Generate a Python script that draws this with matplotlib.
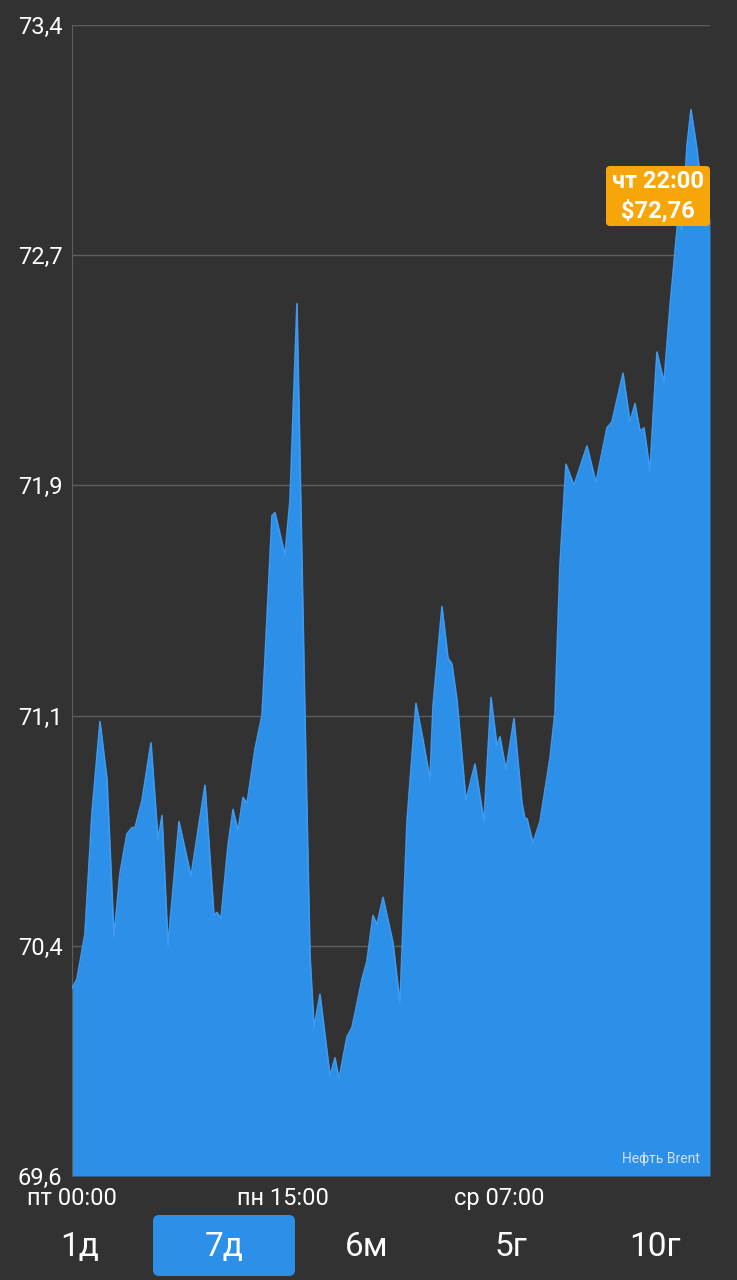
import matplotlib
matplotlib.use("Agg")
import matplotlib.pyplot as plt
import numpy as np
from matplotlib.patches import FancyBboxPatch
from matplotlib.transforms import IdentityTransform

# hours of trading since Friday 00:00, and Brent price in $
hours = [0.0, 0.92, 2.40, 3.70, 5.18, 6.47, 7.77, 8.88, 10.17, 11.10,
         11.65, 12.95, 14.61, 15.91, 16.65, 17.76, 19.79, 22.01, 24.60, 26.26,
         26.82, 27.56, 28.85, 29.78, 30.70, 31.63, 32.37, 33.85, 35.14, 35.70,
         36.99, 37.54, 39.39, 40.32, 41.61, 43.09, 44.02, 44.76, 45.87, 47.72,
         48.64, 49.38, 50.86, 51.79, 53.64, 54.56, 55.67, 56.41, 57.52, 59.37,
         60.66, 61.96, 63.62, 64.92, 66.21, 66.77, 68.43, 69.54, 70.28, 71.21,
         72.87, 74.53, 76.20, 77.49, 78.60, 79.16, 80.27, 81.75, 83.23, 83.78,
         84.15, 85.26, 86.56, 88.41, 89.33, 90.26, 91.37, 92.84, 95.25, 96.91,
         98.95, 99.87, 101.91, 103.20, 104.13, 105.05, 105.79, 106.90, 108.19, 109.49,
         110.60, 112.08, 112.82, 113.74, 114.48, 115.59, 116.70, 118.0]
prices = [70.22, 70.25, 70.40, 70.80, 71.10, 70.91, 70.39, 70.60, 70.73, 70.75,
          70.75, 70.84, 71.03, 70.71, 70.79, 70.36, 70.77, 70.59, 70.89, 70.46,
          70.47, 70.45, 70.69, 70.81, 70.74, 70.85, 70.83, 71.01, 71.12, 71.31,
          71.78, 71.79, 71.65, 71.83, 72.48, 71.12, 70.33, 70.09, 70.20, 69.93,
          69.99, 69.92, 70.06, 70.09, 70.25, 70.31, 70.46, 70.43, 70.52, 70.37,
          70.17, 70.77, 71.16, 71.04, 70.91, 71.15, 71.48, 71.31, 71.29, 71.17,
          70.84, 70.96, 70.77, 71.18, 71.02, 71.05, 70.94, 71.11, 70.83, 70.78,
          70.78, 70.70, 70.77, 70.98, 71.13, 71.62, 71.95, 71.88, 72.01, 71.89,
          72.07, 72.09, 72.25, 72.09, 72.15, 72.06, 72.07, 71.93, 72.32, 72.22,
          72.47, 72.76, 72.72, 73.00, 73.12, 72.99, 72.82, 72.76]

x_ticks = [0, 39, 79]
x_labels = ["пт 00:00", "пн 15:00", "ср 07:00"]
y_labels = ["69,6", "70,4", "71,1", "71,9", "72,7", "73,4"]
periods = ["1д", "7д", "6м", "5г", "10г"]
active = "7д"
last_time = "чт 22:00"
last_price = 72.76
name = "Нефть Brent"

BG = "#323232"
BLUE = "#2c8fe8"
ORANGE = "#f6a609"
GRID = "#5e5e5e"
W, H = 737, 1280

plt.rcParams['font.family'] = ['Roboto', 'DejaVu Sans']

fig = plt.figure(figsize=(W / 100, H / 100), dpi=100, facecolor=BG)
ax = fig.add_axes([72 / W, 1 - 1176 / H, 638 / W, 1151 / H])
ax.set_facecolor(BG)

ax.fill_between(hours, prices, 69.6, color=BLUE, lw=0, zorder=2)
ax.plot(hours, prices, color="#3d9af0", lw=1.2, zorder=3)

ax.set_xlim(0, 118)
ax.set_ylim(69.6, 73.4)
ax.set_yticks(np.linspace(69.6, 73.4, 6), y_labels)
ax.set_xticks(x_ticks, x_labels)
ax.tick_params(axis='both', length=0, colors='white')
ax.tick_params(axis='y', pad=7, labelsize=17)
ax.tick_params(axis='x', pad=8, labelsize=17)
ax.grid(axis='y', color=GRID, lw=1)
ax.set_axisbelow(True)
for s in ['top', 'right', 'bottom']:
    ax.spines[s].set_visible(False)
ax.spines['left'].set_color(GRID)

ax.text(0.984, 0.015, name, transform=ax.transAxes, ha='right', va='center',
        color='#cfe2f7', fontsize=10)

# tooltip for last value
tip = FancyBboxPatch((606, H - 226), 104, 60, boxstyle="round,pad=0,rounding_size=4",
                     transform=IdentityTransform(), fc=ORANGE, ec='none')
fig.add_artist(tip)
fig.text(658 / W, 1 - 182 / H, last_time, ha='center', va='center', color='white',
         fontsize=17, fontweight='bold')
fig.text(658 / W, 1 - 211 / H, "$" + f"{last_price:.2f}".replace('.', ','), ha='center',
         va='center', color='white', fontsize=17, fontweight='bold')

# period buttons
centers = [80, 224, 367, 511, 655]
for c, p in zip(centers, periods):
    if p == active:
        btn = FancyBboxPatch((c - 71, H - 1276), 142, 61, boxstyle="round,pad=0,rounding_size=6",
                             transform=IdentityTransform(), fc=BLUE, ec='none')
        fig.add_artist(btn)
    fig.text(c / W, 1 - 1247 / H, p, ha='center', va='center', color='white', fontsize=24)

fig.savefig("out.png", dpi=100, facecolor=BG)
